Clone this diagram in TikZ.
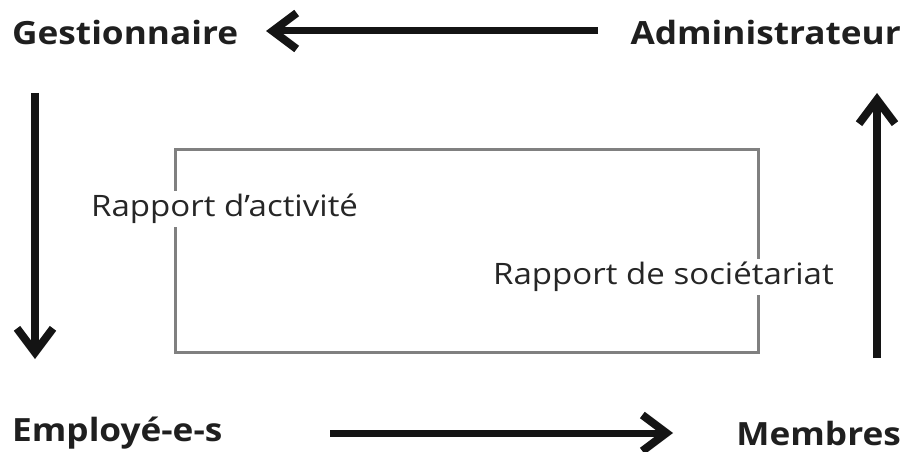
\documentclass[tikz,border=0pt]{standalone}
\usepackage{fontspec}
\setmainfont{Open Sans}
\newfontfamily\rolefont[FakeStretch=1.1]{Open Sans}
\newfontfamily\reportfont[FakeStretch=1.12]{Open Sans}
\usetikzlibrary{arrows.meta}
\begin{document}
\begin{tikzpicture}[x=1pt,y=-1pt,
  role/.style={font=\rolefont\fontsize{32}{36}\selectfont\bfseries, text=black!88, inner sep=0pt},
  report/.style={font=\reportfont\fontsize{29.5}{34}\selectfont, text=black!85, fill=white, inner sep=3pt},
  flow/.style={line width=7pt, black!92, -{Straight Barb[length=24pt, width=36pt, line width=8pt]}},
  vflow/.style={flow, line width=8.5pt},
  frame/.style={draw=black!50, line width=3pt}]
\useasboundingbox (0,0) rectangle (906,452);
% role nodes
\node[role, anchor=west] (ges) at (12,33) {Gestionnaire};
\node[role, anchor=east] (adm) at (901,33) {Administrateur};
\node[role, anchor=west] (emp) at (12,433) {Employé-e-s};
\node[role, anchor=east] (mem) at (901,433) {Membres};
% frame
\draw[frame] (175,149) rectangle (758,352);
\node[report, anchor=west] (ra) at (88,209) {Rapport d’activité};
\node[report, anchor=west] (rs) at (490,277) {Rapport de sociétariat};
% arrow end points
\coordinate (t1) at (598,31);
\coordinate (t2) at (266,31);
\coordinate (l1) at (35,93);
\coordinate (l2) at (35,359);
\coordinate (b1) at (330,433);
\coordinate (b2) at (673,433);
\coordinate (r1) at (877,358);
\coordinate (r2) at (877,93);
\draw[flow] (t1) -- (t2);
\draw[vflow] (l1) -- (l2);
\draw[flow] (b1) -- (b2);
\draw[vflow] (r1) -- (r2);
\end{tikzpicture}
\end{document}
